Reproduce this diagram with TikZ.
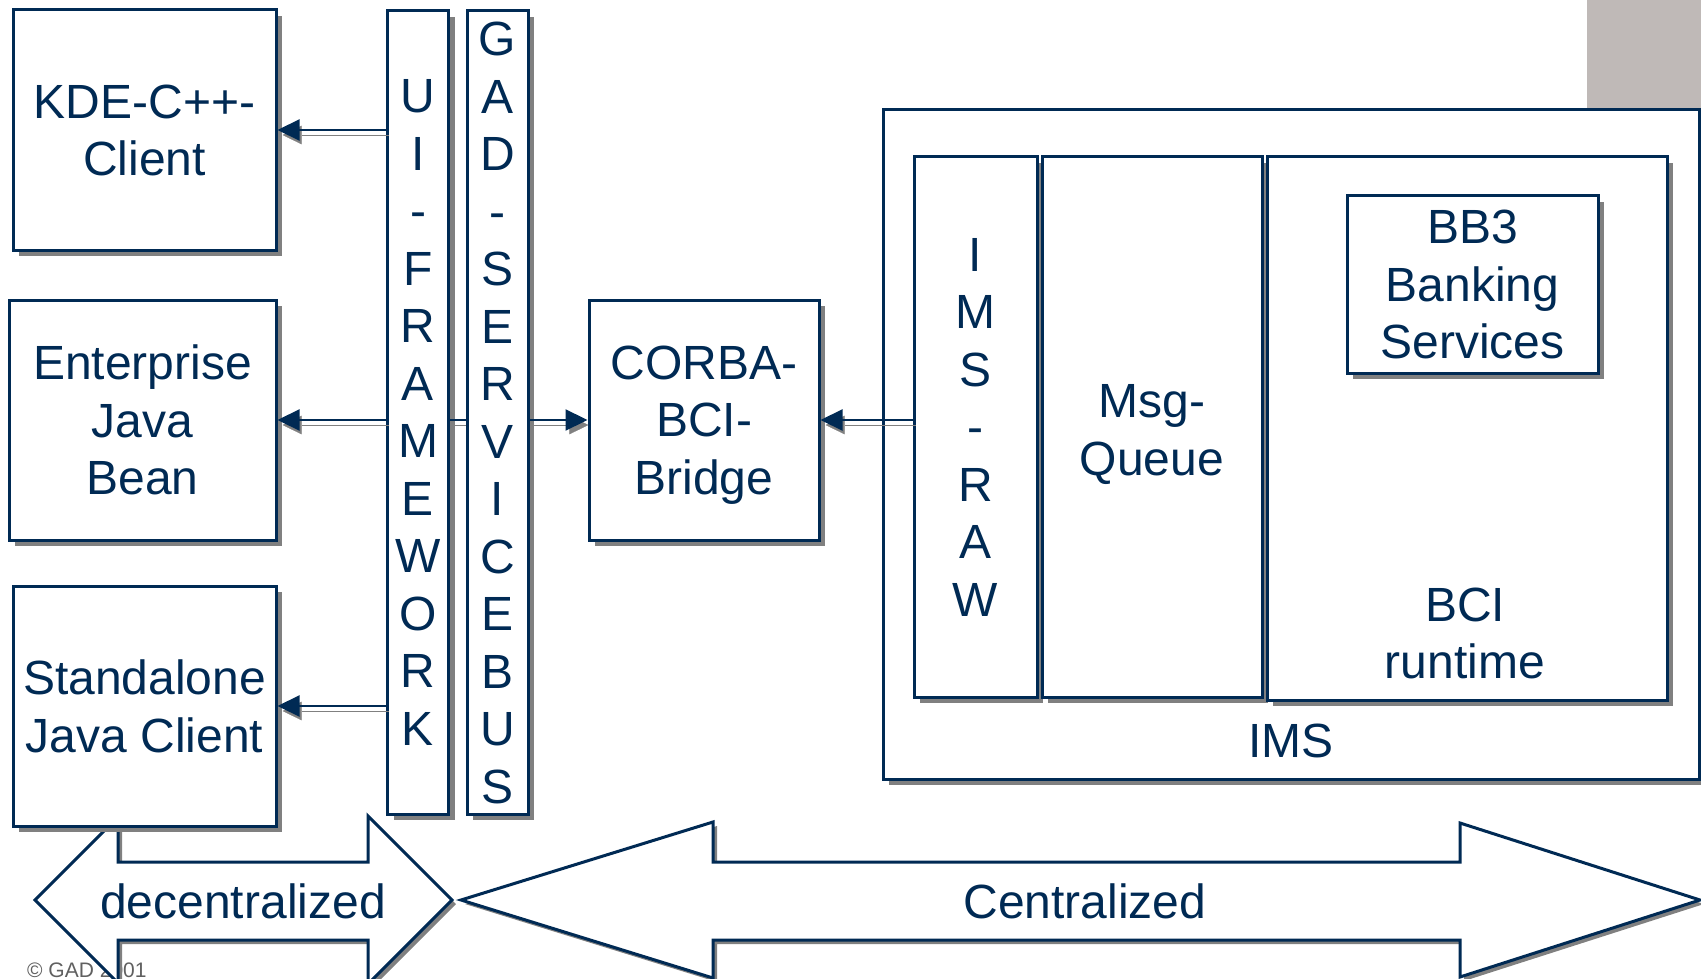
\documentclass[tikz,border=0pt]{standalone}
\usepackage{fontspec}
\setmainfont{Liberation Sans}
\usetikzlibrary{shadows,arrows.meta}
\definecolor{navy}{HTML}{002A54}
\definecolor{shadowgray}{HTML}{808080}
\definecolor{cornergray}{HTML}{BFB9B7}
\definecolor{copygray}{HTML}{606060}
\begin{document}
\begin{tikzpicture}[x=1pt,y=-1pt,
  bigfont/.style={font=\fontsize{48pt}{57.5pt}\selectfont},
  box/.style={draw=navy, line width=3pt, fill=white, inner sep=0pt, align=center,
    text=navy, bigfont, text depth=0pt,
    drop shadow={shadow xshift=6pt, shadow yshift=-6pt, fill=shadowgray, opacity=1}},
  bigarrow/.style={draw=navy, line width=3pt, fill=white, line join=miter,
    drop shadow={shadow xshift=4pt, shadow yshift=-4pt, fill=shadowgray, opacity=1}},
  label/.style={text=navy, bigfont, align=center, inner sep=0pt, text depth=0pt},
  conn/.style={draw=navy, line width=2.2pt, -{Triangle[length=22pt,width=21pt]},
    preaction={draw=shadowgray, transform canvas={shift={(3pt,-5pt)}}}},
  connplain/.style={draw=navy, line width=2.2pt,
    preaction={draw=shadowgray, transform canvas={shift={(0pt,-5pt)}}}}
]
\useasboundingbox (0,0) rectangle (1701,979);
\fill[cornergray] (1587,0) rectangle (1701,108);

% copyright
\node[text=copygray, font=\fontsize{21pt}{25pt}\selectfont, anchor=base west, inner sep=0pt] (copy) at (27,977) {© GAD 2001};

% big arrows
\draw[bigarrow] (35,900) -- (118,817) -- (118,862) -- (368,862) -- (368,816) -- (452,900)
  -- (368,984) -- (368,940) -- (118,940) -- (118,983) -- cycle;
\node[label, anchor=base] (decen) at (243,918) {decentralized};
\draw[bigarrow] (461,900) -- (713,822) -- (713,862) -- (1460,862) -- (1460,823) -- (1700,900)
  -- (1460,977) -- (1460,940) -- (713,940) -- (713,978) -- cycle;
\node[label, anchor=base] (cen) at (1085,918) {Centralized};

% client boxes
\node[box, minimum width=263pt, minimum height=240pt] (kde) at (144.5,130) {KDE-C++-\\Client};
\node[box, minimum width=267pt, minimum height=240pt] (ent) at (142.5,420) {Enterprise\\Java\\Bean};
\node[box, minimum width=263pt, minimum height=240pt] (sa) at (144.5,706) {Standalone\\Java Client};

% vertical columns
\node[box, minimum width=61pt, minimum height=803pt] (uifw) at (418,412.5)
  {U\\I\\-\\F\\R\\A\\M\\E\\W\\O\\R\\K};
\node[box, minimum width=61pt, minimum height=803pt] (gad) at (497.5,412.5)
  {G\\A\\D\\-\\S\\E\\R\\V\\I\\C\\E\\B\\U\\S};

% CORBA bridge
\node[box, minimum width=230pt, minimum height=240pt] (corba) at (704,420) {CORBA-\\BCI-\\Bridge};

% IMS
\node[box, minimum width=816pt, minimum height=669pt] (ims) at (1291,444.5) {};
\node[box, minimum width=123pt, minimum height=540pt] (imsraw) at (975.5,427) {I\\M\\S\\-\\R\\A\\W};
\node[box, minimum width=220pt, minimum height=540pt] (msg) at (1152,427) {};
\node[label] (msgtext) at (1152,430) {Msg-\\Queue};
\node[box, minimum width=400pt, minimum height=543pt] (bci) at (1467,428.5) {};
\node[box, minimum width=251pt, minimum height=177pt] (bb3) at (1472.5,284.5) {BB3\\Banking\\Services};
\node[label] (bcilabel) at (1465,633) {BCI\\runtime};
\node[label] (imslabel) at (1291,741) {IMS};

% connectors
\draw[conn] (uifw.west |- kde.east) -- (kde.east);
\draw[conn] (uifw.west |- ent.east) -- (ent.east);
\draw[conn] (uifw.west |- sa.east) -- (sa.east);
\draw[connplain] (uifw.east |- corba.west) -- (gad.west |- corba.west);
\draw[conn] (gad.east |- corba.west) -- (corba.west);
\draw[conn] (imsraw.west |- corba.east) -- (corba.east);
\end{tikzpicture}
\end{document}
